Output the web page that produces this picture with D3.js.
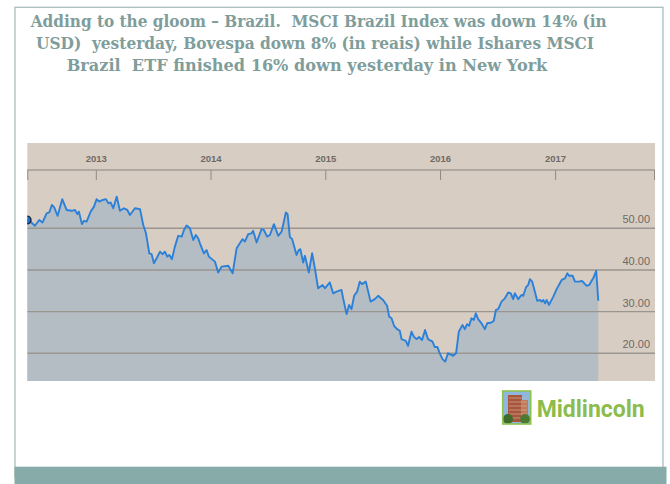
<!DOCTYPE html>
<html><head><meta charset="utf-8">
<script src="https://cdn.jsdelivr.net/npm/d3@7"></script>
<style>html,body{margin:0;padding:0;background:#fff;overflow:hidden}</style>
</head><body><svg id="c" width="670" height="484"></svg>
<script>
const titleLines = [
  "Adding to the gloom \u2013 Brazil.  MSCI Brazil Index was down 14% (in",
  "USD)  yesterday, Bovespa down 8% (in reais) while Ishares MSCI",
  "Brazil  ETF finished 16% down yesterday in New York"
];
const yearTicks = [2013, 2014, 2015, 2016, 2017];
const valueTicks = [20, 30, 40, 50];
const brandName = "Midlincoln";

// decimal-year time stamps
const times = [
2012.399,2012.431,2012.466,2012.504,2012.533,2012.568,2012.591,2012.614,2012.634,2012.664,
2012.704,2012.742,2012.786,2012.815,2012.835,2012.849,2012.875,2012.893,2012.916,2012.951,
2012.980,2013.003,2013.024,2013.056,2013.084,2013.105,2013.125,2013.148,2013.178,2013.206,
2013.241,2013.270,2013.293,2013.337,2013.381,2013.409,2013.433,2013.462,2013.482,2013.502,
2013.526,2013.555,2013.578,2013.598,2013.618,2013.636,2013.659,2013.685,2013.714,2013.744,
2013.764,2013.787,2013.816,2013.845,2013.868,2013.888,2013.903,2013.938,2013.961,2013.981,
2014.008,2014.034,2014.062,2014.092,2014.150,2014.188,2014.223,2014.251,2014.275,2014.295,
2014.324,2014.353,2014.367,2014.397,2014.440,2014.460,2014.489,2014.513,2014.548,2014.585,
2014.615,2014.652,2014.667,2014.687,2014.707,2014.745,2014.765,2014.778,2014.803,2014.818,
2014.852,2014.881,2014.905,2014.933,2014.972,2014.992,2015.035,2015.064,2015.094,2015.137,
2015.151,2015.181,2015.203,2015.224,2015.247,2015.273,2015.296,2015.316,2015.349,2015.390,
2015.427,2015.456,2015.499,2015.534,2015.552,2015.573,2015.595,2015.621,2015.645,2015.660,
2015.697,2015.717,2015.747,2015.767,2015.790,2015.813,2015.839,2015.865,2015.891,2015.930,
2015.950,2015.973,2015.993,2016.017,2016.041,2016.065,2016.095,2016.109,2016.135,2016.159,
2016.191,2016.211,2016.231,2016.248,2016.269,2016.289,2016.307,2016.327,2016.356,2016.385,
2016.405,2016.443,2016.463,2016.481,2016.501,2016.530,2016.559,2016.588,2016.611,2016.631,
2016.646,2016.675,2016.705,2016.719,2016.742,2016.762,2016.777,2016.797,2016.820,2016.840,
2016.864,2016.879,2016.893,2016.908,2016.922,2016.942,2016.980,2017.009,2017.053,2017.082,
2017.102,2017.119,2017.149,2017.169,2017.206,2017.227,2017.250,2017.271,2017.293,2017.314,
2017.328,2017.354,2017.372
];
const prices = [
52.0,51.5,50.6,52.0,51.4,53.6,53.8,55.6,55.0,53.0,
57.0,54.4,54.2,54.4,53.4,54.0,51.0,51.8,51.6,54.0,
55.2,57.0,56.4,56.8,57.0,56.0,56.2,54.8,57.6,54.2,
54.8,54.4,53.2,54.8,54.6,50.8,48.8,44.0,43.8,41.6,
42.8,44.4,43.8,44.4,43.2,43.6,42.6,45.6,48.2,48.0,
49.6,50.7,50.0,47.2,48.4,47.6,46.4,44.0,44.8,43.2,
42.6,42.0,39.4,40.8,41.0,39.2,45.2,46.4,47.4,46.8,
48.6,48.8,49.4,46.6,49.8,49.6,48.0,48.4,51.0,48.2,
49.2,53.8,53.4,47.9,47.4,43.6,44.8,45.0,41.8,43.4,
39.4,44.0,40.4,35.6,36.4,35.6,37.0,34.4,34.8,35.2,
33.2,29.4,31.6,30.6,33.8,34.8,37.2,36.6,37.2,32.4,
33.0,33.8,32.8,31.4,28.8,28.4,26.6,25.8,25.4,23.4,
23.0,21.8,25.2,24.0,23.4,23.9,23.2,25.6,23.4,22.8,
21.5,21.5,20.0,18.6,18.0,20.0,19.6,19.4,20.0,25.2,
26.8,25.8,27.0,26.6,28.4,28.0,29.6,28.2,27.2,25.8,
27.2,27.4,27.8,30.4,30.6,32.4,33.2,34.6,34.4,33.0,
34.4,33.0,34.0,33.8,35.8,36.4,37.8,37.2,34.8,32.6,
32.8,32.4,32.8,32.0,32.8,31.6,33.6,35.4,37.6,38.0,
39.2,38.6,38.6,37.2,37.2,37.4,36.8,36.2,36.4,37.4,
38.0,39.8,32.6
];

function decYear(t) {
  const y = Math.floor(t);
  const s = Date.UTC(y, 0, 1), e = Date.UTC(y + 1, 0, 1);
  return new Date(s + (t - y) * (e - s));
}
const data = times.map((t, i) => ({ date: decYear(t), v: prices[i] }));

const svg = d3.select("#c");
const P = { left: 27.3, right: 655, top: 143, bottom: 381, header: 170 };

const x = d3.scaleUtc().domain([decYear(2013), decYear(2017)]).range([96.3, 555.6]);
const y = d3.scaleLinear().domain([20, 50]).range([353.3, 228.3]);

// outer frame
svg.append("rect").attr("x", 15).attr("y", 7.3).attr("width", 648).attr("height", 470)
  .attr("fill", "#fff").attr("stroke", "#a9bfbd").attr("stroke-width", 1.3);
// bottom band
svg.append("rect").attr("x", 14.5).attr("y", 466.7).attr("width", 652).attr("height", 20)
  .attr("fill", "#87aba8");

// title
const tl = svg.append("g").attr("font-family", "'DejaVu Serif', Georgia, serif")
  .attr("font-weight", "bold").attr("font-size", 17).attr("fill", "#7e9d9b");
const titleX = [30.7, 36, 66.7], titleW = [576, 558, 480.6], titleY = [27.3, 48.8, 70.5];
titleLines.forEach((s, i) => {
  tl.append("text").attr("x", titleX[i]).attr("y", titleY[i])
    .attr("textLength", titleW[i]).attr("lengthAdjust", "spacingAndGlyphs")
    .style("white-space", "pre").attr("xml:space", "preserve").text(s);
});

// panel
svg.append("defs").append("clipPath").attr("id", "pc").append("rect")
  .attr("x", P.left).attr("y", P.top).attr("width", P.right - P.left).attr("height", P.bottom - P.top);
svg.append("rect").attr("x", P.left).attr("y", P.top).attr("width", P.right - P.left)
  .attr("height", P.bottom - P.top).attr("fill", "#d8cdc2");

const g = svg.append("g").attr("clip-path", "url(#pc)");
const area = d3.area().x(d => x(d.date)).y0(P.bottom).y1(d => y(d.v));
g.append("path").datum(data).attr("d", area).attr("fill", "#b5bdc4");

// gridlines
g.selectAll(".grid").data(valueTicks).enter().append("line")
  .attr("x1", P.left).attr("x2", P.right).attr("y1", d => y(d)).attr("y2", d => y(d))
  .attr("stroke", "#9a958f").attr("stroke-width", 1.4);

// header line & ticks
svg.append("line").attr("x1", P.left).attr("x2", P.right).attr("y1", P.header).attr("y2", P.header)
  .attr("stroke", "#a39d97").attr("stroke-width", 1.3);
const tickDates = yearTicks.map(yr => decYear(yr));
svg.selectAll(".tk").data(tickDates).enter().append("line")
  .attr("x1", d => x(d)).attr("x2", d => x(d)).attr("y1", P.header).attr("y2", P.header + 10)
  .attr("stroke", "#8f8a85").attr("stroke-width", 1);
[P.left + 0.5, P.right - 0.5].forEach(xx => svg.append("line").attr("x1", xx).attr("x2", xx)
  .attr("y1", P.header).attr("y2", P.header + 10).attr("stroke", "#8f8a85").attr("stroke-width", 1));
svg.selectAll(".yl").data(yearTicks).enter().append("text")
  .attr("x", d => x(decYear(d))).attr("y", 162).attr("text-anchor", "middle")
  .attr("font-family", "'Liberation Sans', Arial, sans-serif").attr("font-weight", "bold")
  .attr("font-size", 9.5).attr("fill", "#6e6a66").text(d => d);

// y labels
svg.selectAll(".vl").data(valueTicks).enter().append("text")
  .attr("x", 650).attr("y", d => y(d) - 5).attr("text-anchor", "end")
  .attr("font-family", "'Liberation Sans', Arial, sans-serif")
  .attr("font-size", 11).attr("fill", "#6e6a66").text(d => d.toFixed(2));

// line
const line = d3.line().x(d => x(d.date)).y(d => y(d.v));
g.append("path").datum(data).attr("d", line).attr("fill", "none")
  .attr("stroke", "#2b80d9").attr("stroke-width", 1.9).attr("stroke-linejoin", "round");
// start marker
g.append("circle").attr("cx", x(data[0].date)).attr("cy", y(data[0].v)).attr("r", 3.8)
  .attr("fill", "#1d6fd6").attr("stroke", "#10243d").attr("stroke-width", 1.4);

// logo
const lg = svg.append("g");
lg.append("rect").attr("x", 502.7).attr("y", 391).attr("width", 28).attr("height", 33).attr("fill", "#8fb6dc");
lg.append("rect").attr("x", 508).attr("y", 395).attr("width", 14).attr("height", 27).attr("fill", "#a8573e");
lg.append("rect").attr("x", 521).attr("y", 400).attr("width", 7).attr("height", 22).attr("fill", "#c07a5a");
for (let i = 0; i < 6; i++) lg.append("line").attr("x1", 509).attr("x2", 527).attr("y1", 398 + i * 4).attr("y2", 398 + i * 4)
  .attr("stroke", "#d9b9a0").attr("stroke-width", 0.6);
lg.append("circle").attr("cx", 508).attr("cy", 419).attr("r", 5).attr("fill", "#3f6b2c");
lg.append("circle").attr("cx", 525).attr("cy", 419).attr("r", 5).attr("fill", "#4d7a33");
lg.append("rect").attr("x", 502.7).attr("y", 391).attr("width", 28).attr("height", 33)
  .attr("fill", "none").attr("stroke", "#8ec24f").attr("stroke-width", 1.6);
svg.append("text").attr("x", 536.7).attr("y", 416.7).attr("font-family", "Roboto, 'Open Sans', sans-serif")
  .attr("font-weight", "bold").attr("font-size", 24.5).attr("fill", "#8cbc4c")
  .attr("textLength", 108).attr("lengthAdjust", "spacingAndGlyphs").text(brandName);
</script>
</body></html>
